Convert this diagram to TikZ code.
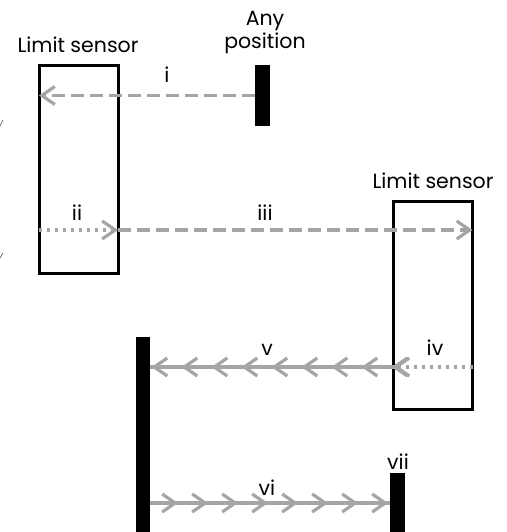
\documentclass[tikz,border=0pt]{standalone}
\usepackage{fontspec}
\setmainfont{Poppins}
\usepackage{tikz}
\usetikzlibrary{positioning,calc,arrows.meta,decorations.markings}
\definecolor{arrowgray}{HTML}{A5A5A5}

\begin{document}
\begin{tikzpicture}[
    x=1pt, y=-1pt,
    sensor/.style={draw, line width=3pt, outer sep=0pt, inner sep=0pt, minimum width=79pt, minimum height=208pt},
    bar/.style={fill=black, outer sep=0pt, inner sep=0pt},
    lbl/.style={font=\fontsize{20.5}{23}\selectfont, inner sep=0pt, align=center},
    barb/.style={-{Straight Barb[length=13pt, width=18pt]}},
    dasharrow/.style={draw=arrowgray, line width=3.2pt, dash pattern=on 13pt off 6pt, barb},
    dotarrow/.style={draw=arrowgray, line width=3.2pt, dash pattern=on 3pt off 5pt, barb},
    multiarrow/.style={draw=arrowgray, line width=3.2pt,
        decoration={markings, mark=between positions #1 and 1 step 30pt with {\arrow{Straight Barb[length=13pt, width=18pt]}}},
        postaction={decorate}}
]
\useasboundingbox (0,0) rectangle (506,532);

% sensors and end stops
\node[sensor] (sensorL) at (78.5,169.5) {};
\node[sensor] (sensorR) at (433,305.5) {};
\node[bar, minimum width=15pt, minimum height=61pt] (anypos) at (262.5,95.5) {};
\node[bar, minimum width=14pt, minimum height=195pt] (stopbar) at (143,434.5) {};
\node[bar, minimum width=15pt, minimum height=59pt] (endbar) at (397.5,502.5) {};

% texts
\node[lbl] (sensorLtxt) at (78,45) {Limit sensor};
\node[lbl] (sensorRtxt) at (433,181) {Limit sensor};
\node[lbl] (anypostxt) at (265,33) {Any\\position};
\node[lbl] (ti) at (167,75) {i};
\node[lbl] (tii) at (77,213) {ii};
\node[lbl] (tiii) at (265,213) {iii};
\node[lbl] (tiv) at (435,348) {iv};
\node[lbl] (tv) at (267,350) {v};
\node[lbl] (tvi) at (267,488) {vi};
\node[lbl] (tvii) at (398,462) {vii};

% rows of the moves
\coordinate (rowb) at (0,230);
\coordinate (rowc) at (0,367);
\coordinate (rowd) at (0,503);

\draw[dasharrow] (anypos.west) -- (anypos.west -| sensorL.west);
\draw[dotarrow] (sensorL.west |- rowb) -- (sensorL.east |- rowb);
\draw[dasharrow] (sensorL.east |- rowb) -- (sensorR.east |- rowb);
\draw[dotarrow] (sensorR.east |- rowc) -- (sensorR.west |- rowc);
\draw[multiarrow=2pt] (sensorR.west |- rowc) -- (stopbar.east |- rowc);
\draw[multiarrow=28pt] (stopbar.east |- rowd) -- (endbar.west |- rowd);

% cut marks at the left edge
\draw[line width=0.6pt, black!70] (0,126) -- (3,120);
\draw[line width=0.6pt, black!70] (0,258) -- (3,253);
\end{tikzpicture}
\end{document}
